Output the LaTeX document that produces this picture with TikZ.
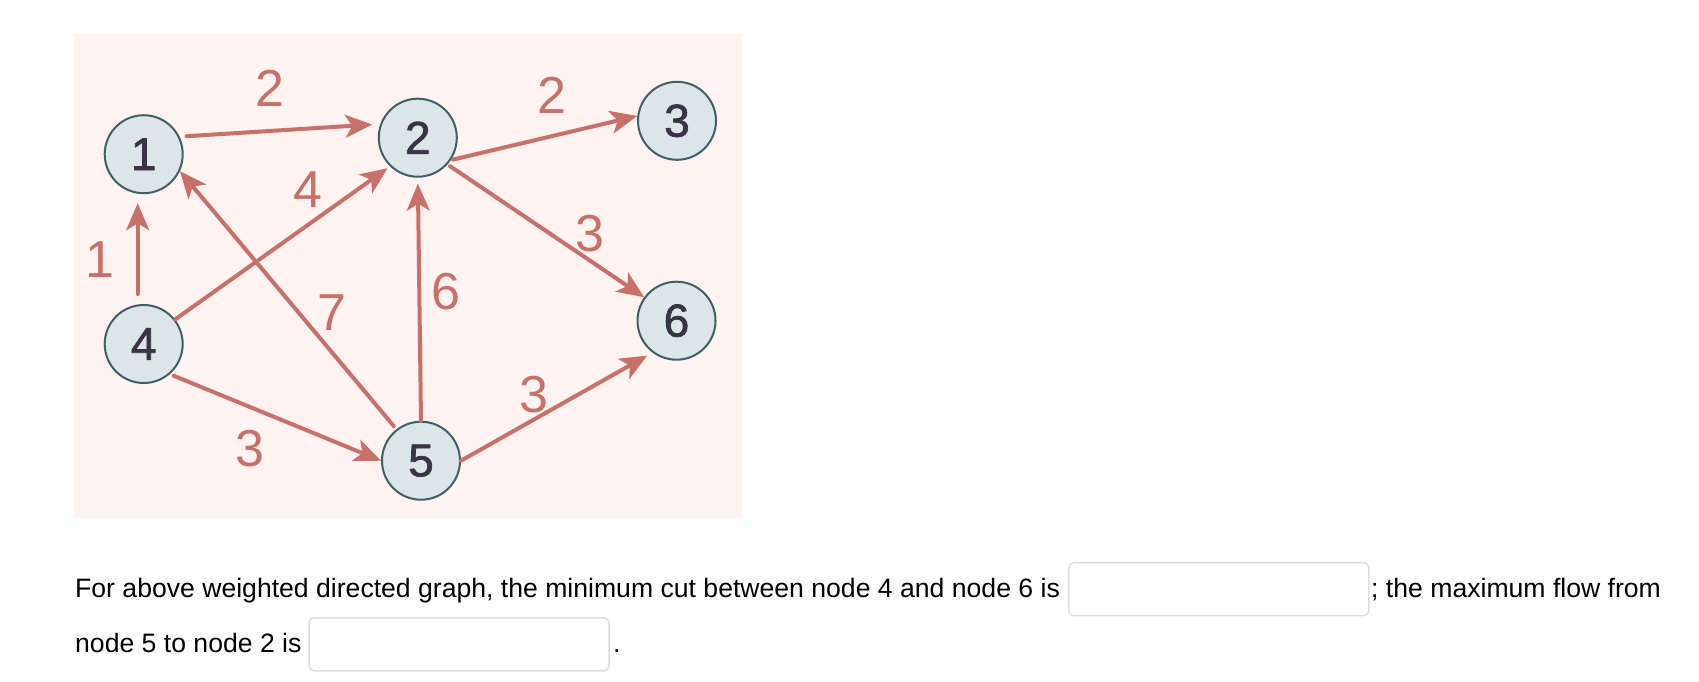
\documentclass[tikz,border=0pt]{standalone}
\usepackage{fontspec}
\setmainfont{Liberation Sans}
\newfontfamily\vertexfont[FakeBold=1.6]{Liberation Sans}
\usetikzlibrary{arrows.meta}
\definecolor{edgered}{HTML}{C8706A}
\definecolor{nodefill}{HTML}{DCE5E8}
\definecolor{nodeline}{HTML}{3D6167}
\definecolor{digit}{HTML}{3A3246}
\definecolor{bgpink}{HTML}{FFF3F1}
\definecolor{boxline}{HTML}{DEDEDE}
\begin{document}
\begin{tikzpicture}[x=1pt,y=-1pt,line cap=round,line join=round,
  vertex/.style={circle,draw=nodeline,fill=nodefill,line width=2pt,minimum size=78pt,inner sep=0pt,text=digit,font=\vertexfont\fontsize{46}{46}\selectfont},
  edge/.style={draw=edgered,line width=4pt,-{Stealth[length=27pt,width=23pt,inset=7pt]}},
  weight/.style={text=edgered,font=\fontsize{52}{52}\selectfont},
  answer/.style={draw=boxline,line width=1.5pt,fill=white,rounded corners=5pt,minimum width=300pt,minimum height=53pt,inner sep=0pt},
  txt/.style={font=\fontsize{26.6}{26.6}\selectfont,anchor=base west,inner sep=0pt}]
  \useasboundingbox (0,0) rectangle (1699,681);
  \fill[white] (0,0) rectangle (1699,681);
  \fill[bgpink] (74,34) rectangle (742,518);
  \node[vertex] (n1) at (143.7,154.2) {1};
  \node[vertex] (n2) at (417.8,137.7) {2};
  \node[vertex] (n3) at (677,120.8) {3};
  \node[vertex] (n4) at (143.7,344) {4};
  \node[vertex] (n5) at (421,460.7) {5};
  \node[vertex] (n6) at (676.5,320.7) {6};
  \draw[edge,shorten <=7pt,shorten >=8pt] (n1.26) -- (n2.160);
  \draw[edge,shorten <=2pt] (n2.-34) -- (n3.173);
  \draw[edge,shorten <=10pt,shorten >=9pt] ([xshift=-6pt]n4.north) -- ([xshift=-6pt]n1.south);
  \draw[edge,shorten >=3pt] (n4.38) -- (n2.226);
  \draw[edge,shorten <=4pt] (n4.-49) -- (n5.180);
  \draw[edge,shorten <=4pt] (n5.128) -- (n1.-25);
  \draw[edge,shorten >=6pt] (n5.90) -- (n2.270);
  \draw[edge,shorten <=3pt] (n2.-42) -- (n6.144);
  \draw[edge,shorten >=6pt] (n5.0) -- (n6.233);
  \node[weight] (w12) at (269.5,88) {2};
  \node[weight] (w23) at (552,95) {2};
  \node[weight] (w41) at (99.5,260) {1};
  \node[weight] (w42) at (307.6,190) {4};
  \node[weight] (w51) at (332.4,313) {7};
  \node[weight] (w52) at (446.4,291.7) {6};
  \node[weight] (w26) at (589.5,234) {3};
  \node[weight] (w45) at (250,449) {3};
  \node[weight] (w56) at (534,395) {3};
  \node[txt] (q1) at (75,597.5) {For above weighted directed graph, the minimum cut between node 4 and node 6 is};
  \node[answer] (a1) at (1218.8,589.2) {};
  \node[txt] (q2) at (1371,597.5) {; the maximum flow from};
  \node[txt] (q3) at (75,652) {node 5 to node 2 is};
  \node[answer] (a2) at (459,644.3) {};
  \node[txt] (q4) at (613,652) {.};
\end{tikzpicture}
\end{document}
